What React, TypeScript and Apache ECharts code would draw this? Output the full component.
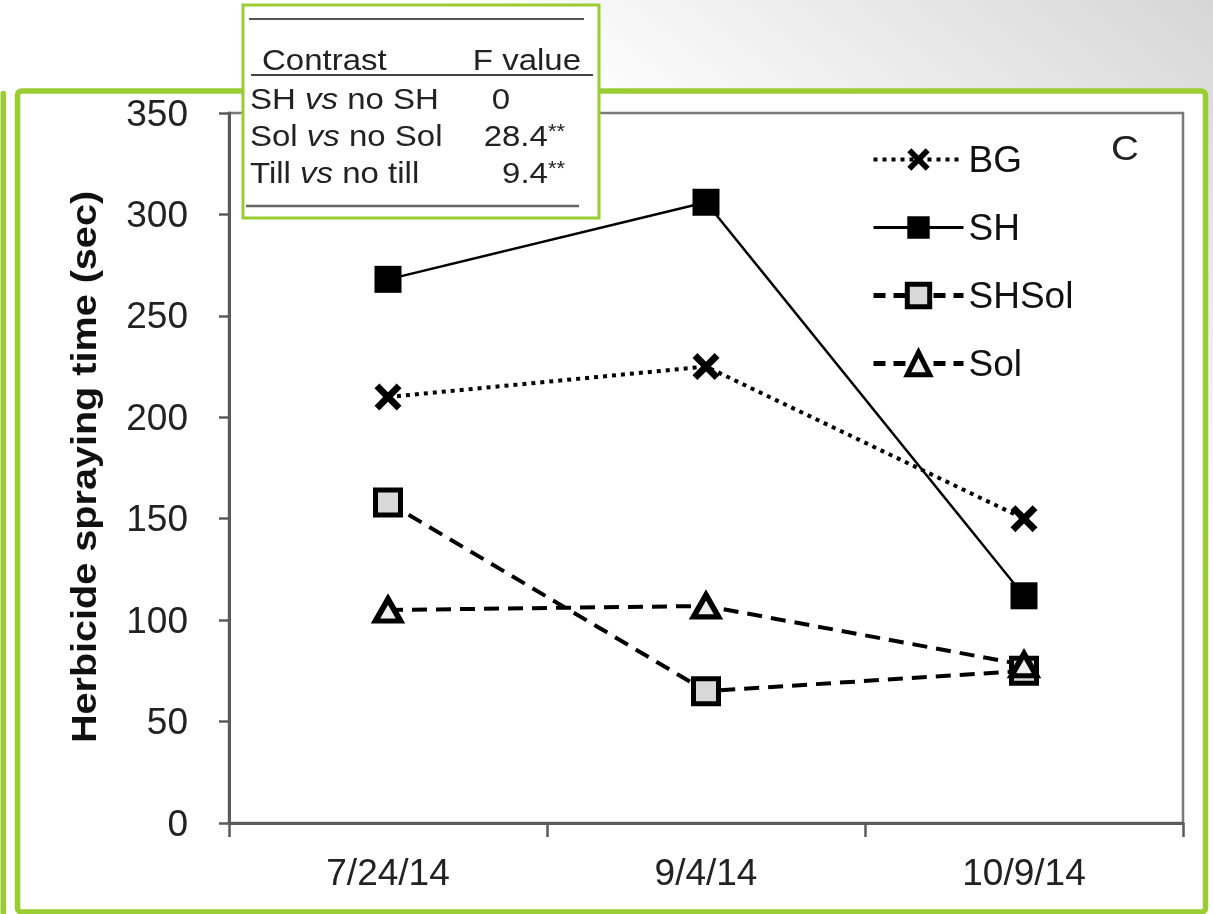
import React, { useEffect, useRef } from 'react';
import * as echarts from 'echarts';

const categories = ['7/24/14', '9/4/14', '10/9/14'];
const seriesNames = ['BG', 'SH', 'SHSol', 'Sol'];
const bgValues = [210, 225, 150];
const shValues = [268, 306, 112];
const shSolValues = [158, 65, 75];
const solValues = [105, 107, 78];

const contrastLeft = ['SH', 'Sol', 'Till'];
const contrastRight = ['no SH', 'no Sol', 'no till'];
const fValues = ['0', '28.4', '9.4'];
const fStars = ['', '**', '**'];
const tableHeader = ['Contrast', 'F value'];
const yAxisTitle = 'Herbicide spraying time (sec)';
const panelLabel = 'C';

const FONT = "'Liberation Sans', Arial, sans-serif";
const GREEN = '#9ACD32';
const X_PATH = 'path://M0,1.8 L1.8,0 L5,3.2 L8.2,0 L10,1.8 L6.8,5 L10,8.2 L8.2,10 L5,6.8 L1.8,10 L0,8.2 L3.2,5 Z';

export default function App() {
  const ref = useRef<HTMLDivElement>(null);

  useEffect(() => {
    if (!ref.current) return;
    const chart = echarts.init(ref.current, undefined, { renderer: 'svg' });

    const rowY = [99, 136, 173];
    const tableTexts: any[] = [];
    tableTexts.push({
      type: 'text', x: 262, y: 60, scaleX: 1.1, z: 101,
      style: { text: tableHeader[0], fill: '#222', fontSize: 30, fontFamily: FONT, align: 'left', verticalAlign: 'middle' },
    });
    tableTexts.push({
      type: 'text', x: 581, y: 60, scaleX: 1.1, z: 101,
      style: { text: tableHeader[1], fill: '#222', fontSize: 30, fontFamily: FONT, align: 'right', verticalAlign: 'middle' },
    });
    for (let i = 0; i < contrastLeft.length; i++) {
      tableTexts.push({
        type: 'text', x: 250, y: rowY[i], scaleX: 1.1, z: 101,
        style: {
          text: `${contrastLeft[i]} {i|vs} ${contrastRight[i]}`,
          fill: '#222', fontSize: 30, fontFamily: FONT, align: 'left', verticalAlign: 'middle',
          rich: { i: { fontStyle: 'italic', fontSize: 30, fontFamily: FONT, fill: '#222' } },
        },
      });
      tableTexts.push({
        type: 'text', x: fStars[i] ? 565 : 510, y: rowY[i], scaleX: 1.1, z: 101,
        style: {
          text: fStars[i] ? `${fValues[i]}{s|${fStars[i]}}` : fValues[i],
          fill: '#222', fontSize: 30, fontFamily: FONT, align: 'right', verticalAlign: 'middle',
          rich: { s: { fontSize: 20, fontFamily: FONT, fill: '#222', verticalAlign: 'top' } },
        },
      });
    }

    const legendData = [
      { name: seriesNames[0], lineStyle: { width: 4, type: [4, 5] } },
      { name: seriesNames[1], lineStyle: { width: 3 } },
      { name: seriesNames[2], lineStyle: { width: 5, type: [12, 8] }, itemStyle: { borderWidth: 5 } },
      { name: seriesNames[3], lineStyle: { width: 5, type: [12, 8] }, itemStyle: { borderWidth: 5 } },
    ];

    const option: any = {
      animation: false,
      graphic: [
        {
          type: 'rect', z: -20, silent: true,
          shape: { x: 0, y: 0, width: 1213, height: 914 },
          style: {
            fill: new echarts.graphic.LinearGradient(0, 1, 1, 0, [
              { offset: 0, color: '#ffffff' },
              { offset: 0.68, color: '#ffffff' },
              { offset: 1, color: '#d6d6d6' },
            ]),
          },
        },
        {
          type: 'rect', z: -19, silent: true,
          shape: { x: 0.5, y: 91, width: 5.5, height: 830, r: 2 },
          style: { fill: GREEN },
        },
        {
          type: 'rect', z: -19, silent: true,
          shape: { x: 17.5, y: 91, width: 1188, height: 821, r: 4 },
          style: { fill: '#ffffff', stroke: GREEN, lineWidth: 5.5 },
        },
        {
          type: 'text', x: 84, y: 467, rotation: Math.PI / 2, scaleX: 1.1, z: 10,
          style: {
            text: yAxisTitle, fill: '#111', fontSize: 36, fontWeight: 'bold', fontFamily: FONT,
            align: 'center', verticalAlign: 'middle',
          },
        },
        {
          type: 'text', x: 1125, y: 148, scaleX: 1.1, z: 10,
          style: { text: panelLabel, fill: '#222', fontSize: 35, fontFamily: FONT, align: 'center', verticalAlign: 'middle' },
        },
        {
          type: 'rect', z: 100, silent: true,
          shape: { x: 243, y: 5, width: 356, height: 213 },
          style: { fill: '#ffffff', stroke: GREEN, lineWidth: 3 },
        },
        {
          type: 'line', z: 101, shape: { x1: 249, y1: 19, x2: 584, y2: 19 },
          style: { stroke: '#555', lineWidth: 2 },
        },
        {
          type: 'line', z: 101, shape: { x1: 251, y1: 75, x2: 593, y2: 75 },
          style: { stroke: '#444', lineWidth: 2 },
        },
        {
          type: 'line', z: 101, shape: { x1: 246, y1: 206, x2: 579, y2: 206 },
          style: { stroke: '#666', lineWidth: 2.5 },
        },
        ...tableTexts,
      ],
      grid: {
        left: 229, right: 30, top: 113, bottom: 91,
        show: true, borderColor: '#7a7a7a', borderWidth: 2.5, backgroundColor: 'transparent',
      },
      legend: {
        orient: 'vertical', left: 871, top: 141, padding: 0,
        itemWidth: 90, itemHeight: 28, itemGap: 31,
        data: legendData,
        textStyle: { fontSize: 37, color: '#111', fontFamily: FONT },
      },
      xAxis: {
        type: 'category', data: categories, boundaryGap: true,
        axisLine: { show: true, lineStyle: { color: '#5a5a5a', width: 3 } },
        axisTick: { show: true, length: 14, lineStyle: { color: '#5a5a5a', width: 2.5 } },
        axisLabel: { fontSize: 37, color: '#222', margin: 31, fontFamily: FONT },
        splitLine: { show: false },
      },
      yAxis: {
        type: 'value', min: 0, max: 350, interval: 50,
        axisLine: { show: true, lineStyle: { color: '#5a5a5a', width: 3 } },
        axisTick: { show: true, length: 10, lineStyle: { color: '#5a5a5a', width: 2.5 } },
        axisLabel: { fontSize: 37, color: '#222', margin: 41, fontFamily: FONT },
        splitLine: { show: false },
      },
      series: [
        {
          name: seriesNames[0], type: 'line', data: bgValues,
          symbol: X_PATH, symbolSize: 27,
          itemStyle: { color: '#000' },
          lineStyle: { color: '#000', width: 4, type: [4, 5] },
        },
        {
          name: seriesNames[1], type: 'line', data: shValues,
          symbol: 'rect', symbolSize: 27,
          itemStyle: { color: '#000' },
          lineStyle: { color: '#000', width: 2.5, type: 'solid' },
        },
        {
          name: seriesNames[2], type: 'line', data: shSolValues,
          symbol: 'rect', symbolSize: 25,
          itemStyle: { color: '#d8d8d8', borderColor: '#000', borderWidth: 5 },
          lineStyle: { color: '#000', width: 4, type: [15, 9] },
        },
        {
          name: seriesNames[3], type: 'line', data: solValues,
          symbol: 'triangle', symbolSize: [25, 22],
          itemStyle: { color: '#eeeeee', borderColor: '#000', borderWidth: 5.5 },
          lineStyle: { color: '#000', width: 4, type: [15, 9] },
        },
      ],
    };

    chart.setOption(option);
    return () => chart.dispose();
  }, []);

  return (
    <div
      ref={ref}
      style={{ position: 'fixed', left: 0, top: 0, width: 1213, height: 914 }}
    />
  );
}
